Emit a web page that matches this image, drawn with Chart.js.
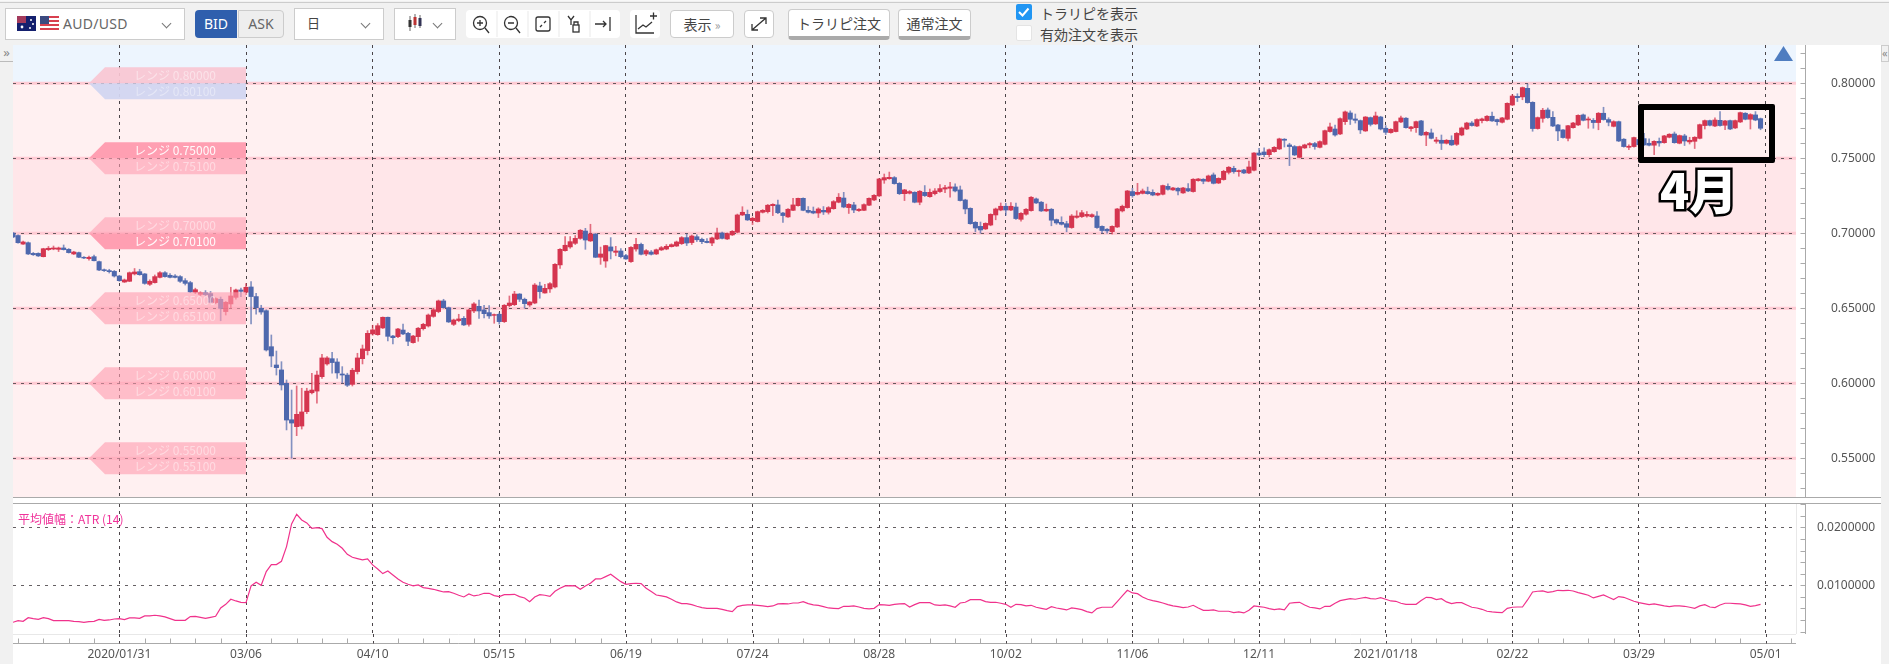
<!DOCTYPE html>
<html lang="ja">
<head>
<meta charset="utf-8">
<title>AUD/USD</title>
<script src="https://cdn.jsdelivr.net/npm/chart.js@4"></script>
<style>
html, body { margin: 0; padding: 0; background: #fff; overflow: hidden; }
body { width: 1889px; height: 664px; position: relative; font-family: "Noto Sans CJK JP", "Noto Sans", sans-serif; color: #444; }
div, svg, canvas { position: absolute; box-sizing: border-box; }
.box { background: #fff; border: 1px solid #ccc; }
.btn { background: #fff; border: 1px solid #ccc; border-radius: 4px; text-align: center; font-size: 14px; color: #444; }
.chev { width: 7px; height: 7px; border-right: 1px solid #777; border-bottom: 1px solid #777; transform: rotate(45deg); }
</style>
</head>
<body>
<!-- toolbar -->
<div style="left:0;top:0;width:1889px;height:45px;background:#f1f1f1;border-top:1px solid #f8f8f8"></div>
<div style="left:0;top:2px;width:1889px;height:1px;background:#ccc"></div>

<div class="box" style="left:5px;top:8px;width:180px;height:32px"></div>
<svg style="left:17px;top:16px" width="19" height="15"><rect width="19" height="15" fill="#14206e"/><rect width="9" height="7" fill="#a33a5c"/><circle cx="5" cy="11" r="1.4" fill="#fff"/><circle cx="14" cy="4" r="1" fill="#fff"/><circle cx="16" cy="8" r="1" fill="#fff"/><circle cx="13" cy="12" r="1" fill="#fff"/></svg>
<svg style="left:40px;top:16px" width="19" height="15"><rect width="19" height="15" fill="#fff"/><rect y="0" width="19" height="2" fill="#d8404f"/><rect y="4" width="19" height="2" fill="#d8404f"/><rect y="8" width="19" height="2" fill="#d8404f"/><rect y="12" width="19" height="2" fill="#d8404f"/><rect width="9" height="8" fill="#3b4a80"/></svg>
<div style="left:63px;top:14px;font:14px 'Noto Sans';line-height:20px;color:#666;letter-spacing:.3px;white-space:nowrap">AUD/USD</div>
<div class="chev" style="left:163px;top:20px"></div>

<div style="left:195px;top:10px;width:42px;height:28px;background:#2f5fad;border-radius:4px 0 0 4px;color:#fff;font:14px/28px 'Noto Sans';text-align:center">BID</div>
<div style="left:238px;top:10px;width:46px;height:28px;background:#eee;border:1px solid #ccc;border-radius:0 4px 4px 0;color:#666;font:14px/26px 'Noto Sans';text-align:center">ASK</div>

<div class="box" style="left:294px;top:8px;width:90px;height:32px"></div>
<div style="left:307px;top:13px;font-size:13px;line-height:20px;white-space:nowrap">日</div>
<div class="chev" style="left:362px;top:20px"></div>

<div class="box" style="left:394px;top:8px;width:62px;height:32px"></div>
<svg style="left:407px;top:14px" width="16" height="18"><path d="M3 2v15M8 0v14M13 1v13" stroke="#666"/><rect x="1.5" y="6" width="3" height="7" fill="#333"/><rect x="6.5" y="3" width="3" height="8" fill="#b33"/><rect x="11.5" y="4" width="3" height="8" fill="#335"/></svg>
<div class="chev" style="left:434px;top:20px"></div>

<div style="left:466px;top:10px;width:154px;height:28px;background:#fff;border-radius:4px"></div>
<svg style="left:466px;top:10px" width="154" height="28" fill="none" stroke="#333" stroke-width="1.3">
  <path d="M31 1v26M62 1v26M93 1v26M124 1v26" stroke="#eee"/>
  <circle cx="14" cy="13" r="6.5"/><path d="M19 18l4 5M11 13h6M14 10v6"/>
  <circle cx="45" cy="13" r="6.5"/><path d="M50 18l4 5M42 13h6"/>
  <rect x="70" y="7" width="14" height="14" rx="2"/><path d="M74 17l2-2M80 11l-2 2" />
  <path d="M102 6l3 4 3-4M105 10v5"/><rect x="107" y="15" width="6" height="7"/><path d="M108 15v-3h4v3"/>
  <path d="M129 14h11M137 11l3 3-3 3M144 7v14"/>
</svg>
<div style="left:630px;top:10px;width:30px;height:28px;background:#fff;border-radius:4px"></div>
<svg style="left:630px;top:10px" width="30" height="28" fill="none" stroke="#333" stroke-width="1.3"><path d="M6 5v18h18M8 19l5-4 3 2 6-5M20 6h7M23.500 2.500v7"/></svg>

<div class="btn" style="left:670px;top:10px;width:64px;height:28px;line-height:26px">表示 <span style="color:#999;font-size:12px">»</span></div>
<div class="btn" style="left:744px;top:10px;width:30px;height:28px"></div>
<svg style="left:744px;top:10px" width="30" height="28" fill="none" stroke="#333" stroke-width="1.3"><path d="M8 20l14-12M16 8h6v6M8 14v6h6"/></svg>

<div class="btn" style="left:788px;top:9px;width:102px;height:31px;line-height:26px;border-bottom:4px solid #aaa">トラリピ注文</div>
<div class="btn" style="left:898px;top:9px;width:73px;height:31px;line-height:26px;border-bottom:4px solid #aaa">通常注文</div>

<div style="left:1016px;top:4px;width:16px;height:16px;background:#2196f3;border-radius:2px"></div>
<svg style="left:1016px;top:4px" width="16" height="16" fill="none" stroke="#fff" stroke-width="2"><path d="M3 8l3.500 3.500 6-7"/></svg>
<div style="left:1040px;top:2px;font-size:14px;line-height:22px;white-space:nowrap">トラリピを表示</div>
<div style="left:1016px;top:25px;width:16px;height:16px;background:#fff;border:1px solid #e4e4e4;border-radius:2px"></div>
<div style="left:1040px;top:23px;font-size:14px;line-height:22px;white-space:nowrap">有効注文を表示</div>

<!-- side columns -->
<div style="left:0;top:45px;width:13px;height:619px;background:#f1f1f1"></div>
<div style="left:0;top:45px;width:13px;height:17px;border-bottom:1px solid #bbb;color:#888;font:13px/15px 'Noto Sans';text-align:center">»</div>
<div style="left:1881px;top:45px;width:8px;height:619px;background:#f1f1f1"></div>
<div style="left:1881px;top:45px;width:8px;height:17px;border:1px solid #ccc;color:#888;font:11px/14px 'Noto Sans';overflow:hidden">«</div>

<canvas id="priceChart" width="1868" height="452" style="left:13px;top:45px"></canvas>
<canvas id="atrChart" width="1868" height="160" style="left:13px;top:504px"></canvas>

<!-- pane separators -->
<div style="left:13px;top:497px;width:1868px;height:1px;background:#aaa"></div>
<div style="left:13px;top:503px;width:1868px;height:1px;background:#aaa"></div>

<svg style="left:1774px;top:46px" width="19" height="15"><path d="M9.500 0L19 15H0z" fill="#4f7dc0"/></svg>
<div style="left:1638px;top:104px;width:137px;height:59px;border:6px solid #000;border-radius:2px"></div>
<div style="left:1660px;top:158px;font-size:48px;font-weight:900;line-height:60px;color:#fff;-webkit-text-stroke:5px #000;paint-order:stroke fill;white-space:nowrap">4月</div>
<div style="left:18px;top:510px;font-size:12px;line-height:18px;color:#f0329a;white-space:nowrap">平均値幅：ATR (14)</div>

<script>
// every slot on the time axis, the last ones are still empty
const categories = Array.from({ length: 353 }, (_, i) => i);
const dateLabels = ['2020/01/31', '03/06', '04/10', '05/15', '06/19', '07/24', '08/28', '10/02', '11/06', '12/11', '2021/01/18', '02/22', '03/29', '05/01'];
const rangeLevels = [0.80, 0.75, 0.70, 0.65, 0.60, 0.55];

const openValues = [
0.7002,0.6985,0.6928,0.6937,0.6866,0.6866,0.6844,0.6891,0.6895,0.6893,
0.6902,0.6893,0.6862,0.6871,0.6840,0.6831,0.6844,0.6811,0.6757,0.6751,
0.6746,0.6715,0.6675,0.6680,0.6729,0.6744,0.6729,0.6660,0.6671,0.6706,
0.6737,0.6720,0.6715,0.6711,0.6684,0.6671,0.6607,0.6593,0.6604,0.6598,
0.6538,0.6560,0.6478,0.6529,0.6573,0.6622,0.6607,0.6642,0.6578,0.6500,
0.6484,0.6244,0.6122,0.6089,0.6000,0.5757,0.5711,0.5715,0.5811,0.5937,
0.5948,0.6044,0.6129,0.6164,0.6142,0.6062,0.6055,0.5993,0.6078,0.6164,
0.6218,0.6329,0.6324,0.6369,0.6440,0.6315,0.6311,0.6355,0.6333,0.6271,
0.6311,0.6364,0.6382,0.6446,0.6478,0.6549,0.6504,0.6393,0.6418,0.6433,
0.6393,0.6482,0.6513,0.6489,0.6471,0.6453,0.6460,0.6411,0.6518,0.6524,
0.6595,0.6560,0.6522,0.6535,0.6649,0.6602,0.6629,0.6642,0.6789,0.6884,
0.6909,0.6933,0.6966,0.7015,0.6949,0.6995,0.6840,0.6815,0.6909,0.6873,
0.6882,0.6851,0.6811,0.6895,0.6926,0.6862,0.6875,0.6862,0.6889,0.6895,
0.6911,0.6915,0.6931,0.6971,0.6938,0.6977,0.6960,0.6946,0.6935,0.6962,
0.7002,0.6962,0.6989,0.7007,0.7122,0.7126,0.7084,0.7078,0.7140,0.7144,
0.7184,0.7189,0.7135,0.7109,0.7153,0.7184,0.7233,0.7153,0.7147,0.7135,
0.7153,0.7140,0.7164,0.7207,0.7235,0.7171,0.7189,0.7151,0.7153,0.7187,
0.7222,0.7249,0.7355,0.7364,0.7371,0.7333,0.7264,0.7267,0.7273,0.7207,
0.7273,0.7244,0.7264,0.7278,0.7295,0.7300,0.7309,0.7289,0.7222,0.7166,
0.7073,0.7046,0.7029,0.7055,0.7122,0.7155,0.7180,0.7155,0.7175,0.7093,
0.7127,0.7151,0.7229,0.7207,0.7149,0.7160,0.7091,0.7073,0.7064,0.7038,
0.7106,0.7111,0.7115,0.7111,0.7115,0.7046,0.7027,0.7011,0.7042,0.7149,
0.7171,0.7278,0.7260,0.7266,0.7278,0.7273,0.7255,0.7260,0.7313,0.7289,
0.7300,0.7269,0.7298,0.7278,0.7351,0.7360,0.7347,0.7389,0.7335,0.7358,
0.7406,0.7433,0.7411,0.7422,0.7402,0.7420,0.7535,0.7542,0.7524,0.7544,
0.7562,0.7627,0.7589,0.7578,0.7506,0.7569,0.7589,0.7598,0.7573,0.7593,
0.7678,0.7695,0.7662,0.7744,0.7802,0.7762,0.7751,0.7682,0.7771,0.7729,
0.7775,0.7700,0.7671,0.7678,0.7742,0.7767,0.7698,0.7704,0.7749,0.7655,
0.7669,0.7613,0.7620,0.7600,0.7620,0.7593,0.7655,0.7695,0.7735,0.7715,
0.7751,0.7751,0.7780,0.7758,0.7740,0.7760,0.7855,0.7913,0.7909,0.7966,
0.7873,0.7698,0.7766,0.7822,0.7773,0.7722,0.7689,0.7633,0.7704,0.7722,
0.7789,0.7755,0.7753,0.7738,0.7800,0.7758,0.7713,0.7744,0.7627,0.7573,
0.7578,0.7625,0.7631,0.7600,0.7587,0.7613,0.7604,0.7640,0.7662,0.7600,
0.7649,0.7609,0.7613,0.7633,0.7718,0.7751,0.7715,0.7753,0.7720,0.7751,
0.7702,0.7742,0.7800,0.7760,0.7789,0.7764];

const closeValues = [
0.6975,0.6937,0.6942,0.6862,0.6857,0.6849,0.6897,0.6900,0.6902,0.6902,
0.6891,0.6871,0.6875,0.6840,0.6835,0.6840,0.6817,0.6755,0.6751,0.6744,
0.6715,0.6684,0.6689,0.6737,0.6742,0.6724,0.6666,0.6680,0.6711,0.6737,
0.6711,0.6706,0.6706,0.6680,0.6666,0.6609,0.6624,0.6604,0.6591,0.6540,
0.6564,0.6500,0.6540,0.6582,0.6622,0.6613,0.6640,0.6578,0.6504,0.6475,
0.6222,0.6182,0.6104,0.5989,0.5755,0.5735,0.5793,0.5809,0.5948,0.5955,
0.6055,0.6169,0.6169,0.6138,0.6069,0.6055,0.5987,0.6087,0.6169,0.6229,
0.6333,0.6356,0.6384,0.6440,0.6313,0.6304,0.6362,0.6329,0.6280,0.6315,
0.6367,0.6393,0.6455,0.6490,0.6549,0.6504,0.6409,0.6422,0.6429,0.6389,
0.6489,0.6529,0.6482,0.6464,0.6449,0.6458,0.6411,0.6520,0.6535,0.6595,
0.6560,0.6531,0.6542,0.6655,0.6611,0.6633,0.6664,0.6793,0.6893,0.6920,
0.6944,0.6966,0.7020,0.6955,0.6995,0.6840,0.6862,0.6918,0.6882,0.6882,
0.6844,0.6829,0.6906,0.6926,0.6860,0.6884,0.6860,0.6890,0.6904,0.6913,
0.6924,0.6942,0.6971,0.6935,0.6982,0.6957,0.6944,0.6938,0.6969,0.7002,
0.6966,0.6998,0.7013,0.7122,0.7140,0.7089,0.7100,0.7144,0.7153,0.7187,
0.7193,0.7137,0.7118,0.7160,0.7189,0.7233,0.7153,0.7140,0.7135,0.7162,
0.7142,0.7171,0.7211,0.7240,0.7175,0.7193,0.7155,0.7160,0.7191,0.7233,
0.7253,0.7362,0.7371,0.7373,0.7331,0.7264,0.7289,0.7278,0.7207,0.7280,
0.7251,0.7273,0.7282,0.7298,0.7304,0.7309,0.7282,0.7218,0.7162,0.7064,
0.7035,0.7022,0.7066,0.7126,0.7162,0.7180,0.7155,0.7180,0.7098,0.7133,
0.7160,0.7240,0.7202,0.7149,0.7160,0.7087,0.7069,0.7060,0.7040,0.7115,
0.7115,0.7137,0.7126,0.7124,0.7038,0.7018,0.7016,0.7046,0.7162,0.7180,
0.7282,0.7251,0.7273,0.7282,0.7264,0.7255,0.7266,0.7318,0.7293,0.7302,
0.7282,0.7302,0.7282,0.7360,0.7362,0.7347,0.7382,0.7333,0.7366,0.7413,
0.7440,0.7411,0.7418,0.7402,0.7442,0.7535,0.7522,0.7524,0.7557,0.7573,
0.7629,0.7620,0.7578,0.7522,0.7578,0.7589,0.7598,0.7578,0.7611,0.7684,
0.7709,0.7655,0.7764,0.7809,0.7760,0.7753,0.7689,0.7775,0.7726,0.7782,
0.7695,0.7673,0.7693,0.7744,0.7769,0.7704,0.7709,0.7744,0.7655,0.7673,
0.7633,0.7622,0.7600,0.7620,0.7589,0.7666,0.7702,0.7735,0.7718,0.7758,
0.7762,0.7780,0.7749,0.7744,0.7769,0.7866,0.7915,0.7904,0.7971,0.7871,
0.7698,0.7771,0.7820,0.7771,0.7715,0.7682,0.7638,0.7717,0.7735,0.7786,
0.7753,0.7762,0.7738,0.7800,0.7758,0.7740,0.7744,0.7615,0.7578,0.7580,
0.7638,0.7590,0.7589,0.7587,0.7613,0.7602,0.7649,0.7660,0.7604,0.7651,
0.7615,0.7620,0.7640,0.7724,0.7751,0.7720,0.7755,0.7718,0.7749,0.7695,
0.7751,0.7804,0.7760,0.7791,0.7755,0.7700];

const highValues = [
0.7005,0.6990,0.6948,0.6942,0.6872,0.6870,0.6900,0.6912,0.6915,0.6908,
0.6922,0.6898,0.6880,0.6875,0.6845,0.6848,0.6855,0.6815,0.6762,0.6760,
0.6752,0.6720,0.6695,0.6742,0.6765,0.6760,0.6732,0.6690,0.6722,0.6745,
0.6745,0.6732,0.6725,0.6718,0.6698,0.6680,0.6634,0.6610,0.6618,0.6612,
0.6570,0.6575,0.6545,0.6640,0.6628,0.6635,0.6665,0.6678,0.6600,0.6520,
0.6490,0.6322,0.6215,0.6144,0.6022,0.5955,0.5982,0.5967,0.5967,0.6067,
0.6082,0.6193,0.6178,0.6207,0.6164,0.6111,0.6067,0.6100,0.6200,0.6255,
0.6351,0.6387,0.6398,0.6442,0.6442,0.6320,0.6367,0.6395,0.6340,0.6320,
0.6372,0.6400,0.6462,0.6500,0.6555,0.6560,0.6508,0.6428,0.6460,0.6445,
0.6495,0.6538,0.6555,0.6520,0.6518,0.6462,0.6470,0.6525,0.6582,0.6613,
0.6598,0.6568,0.6545,0.6665,0.6674,0.6660,0.6672,0.6798,0.6898,0.6978,
0.6978,0.6985,0.7025,0.7033,0.7060,0.6998,0.6908,0.6920,0.6971,0.6913,
0.6898,0.6860,0.6912,0.6967,0.6935,0.6892,0.6885,0.6895,0.6912,0.6925,
0.6930,0.6948,0.6978,0.6995,0.6988,0.6990,0.6968,0.6965,0.6975,0.7035,
0.7008,0.7002,0.7018,0.7128,0.7177,0.7155,0.7108,0.7148,0.7158,0.7192,
0.7197,0.7222,0.7140,0.7165,0.7233,0.7235,0.7236,0.7178,0.7175,0.7170,
0.7178,0.7178,0.7218,0.7265,0.7273,0.7198,0.7207,0.7165,0.7196,0.7237,
0.7258,0.7366,0.7395,0.7408,0.7378,0.7338,0.7293,0.7285,0.7277,0.7285,
0.7318,0.7295,0.7298,0.7325,0.7320,0.7340,0.7330,0.7315,0.7227,0.7170,
0.7078,0.7075,0.7070,0.7130,0.7168,0.7202,0.7200,0.7205,0.7202,0.7138,
0.7165,0.7245,0.7235,0.7212,0.7195,0.7165,0.7095,0.7110,0.7080,0.7125,
0.7150,0.7152,0.7145,0.7130,0.7145,0.7050,0.7032,0.7050,0.7166,0.7188,
0.7286,0.7300,0.7333,0.7295,0.7308,0.7290,0.7270,0.7322,0.7330,0.7307,
0.7304,0.7307,0.7332,0.7364,0.7366,0.7364,0.7388,0.7402,0.7370,0.7420,
0.7445,0.7447,0.7422,0.7426,0.7482,0.7538,0.7566,0.7570,0.7562,0.7578,
0.7634,0.7631,0.7600,0.7585,0.7582,0.7594,0.7605,0.7606,0.7617,0.7688,
0.7735,0.7722,0.7770,0.7815,0.7816,0.7795,0.7755,0.7778,0.7775,0.7808,
0.7780,0.7718,0.7697,0.7748,0.7782,0.7771,0.7713,0.7748,0.7753,0.7678,
0.7695,0.7640,0.7655,0.7625,0.7650,0.7672,0.7708,0.7740,0.7745,0.7763,
0.7768,0.7785,0.7808,0.7762,0.7773,0.7870,0.7925,0.7930,0.7975,0.7995,
0.7877,0.7775,0.7833,0.7835,0.7811,0.7726,0.7692,0.7720,0.7740,0.7790,
0.7795,0.7775,0.7765,0.7805,0.7840,0.7770,0.7750,0.7748,0.7631,0.7590,
0.7642,0.7660,0.7667,0.7630,0.7617,0.7635,0.7653,0.7664,0.7675,0.7655,
0.7660,0.7640,0.7644,0.7728,0.7755,0.7755,0.7770,0.7811,0.7753,0.7755,
0.7755,0.7808,0.7804,0.7797,0.7811,0.7768];

const lowValues = [
0.6970,0.6934,0.6925,0.6858,0.6852,0.6845,0.6842,0.6885,0.6890,0.6878,
0.6888,0.6868,0.6858,0.6838,0.6830,0.6820,0.6815,0.6750,0.6745,0.6735,
0.6708,0.6680,0.6672,0.6678,0.6722,0.6720,0.6660,0.6652,0.6668,0.6702,
0.6708,0.6702,0.6702,0.6672,0.6655,0.6605,0.6598,0.6582,0.6582,0.6535,
0.6530,0.6417,0.6455,0.6500,0.6560,0.6578,0.6590,0.6395,0.6460,0.6460,
0.6215,0.6110,0.6055,0.5955,0.5689,0.5500,0.5651,0.5695,0.5798,0.5929,
0.5867,0.6033,0.6120,0.6067,0.6033,0.6002,0.5978,0.5982,0.6062,0.6129,
0.6189,0.6320,0.6320,0.6365,0.6282,0.6262,0.6304,0.6324,0.6250,0.6268,
0.6280,0.6355,0.6375,0.6440,0.6470,0.6500,0.6405,0.6385,0.6410,0.6385,
0.6380,0.6470,0.6433,0.6435,0.6433,0.6400,0.6395,0.6405,0.6510,0.6518,
0.6545,0.6500,0.6512,0.6530,0.6567,0.6600,0.6606,0.6635,0.6766,0.6880,
0.6900,0.6925,0.6960,0.6893,0.6945,0.6838,0.6793,0.6773,0.6829,0.6850,
0.6835,0.6825,0.6805,0.6880,0.6855,0.6850,0.6855,0.6858,0.6885,0.6890,
0.6908,0.6912,0.6925,0.6918,0.6925,0.6945,0.6930,0.6935,0.6918,0.6958,
0.6962,0.6958,0.6985,0.7003,0.7118,0.7085,0.7058,0.7075,0.7135,0.7135,
0.7118,0.7130,0.7072,0.7105,0.7150,0.7180,0.7150,0.7135,0.7130,0.7105,
0.7125,0.7128,0.7160,0.7203,0.7170,0.7132,0.7138,0.7145,0.7150,0.7184,
0.7218,0.7245,0.7333,0.7360,0.7327,0.7258,0.7218,0.7262,0.7203,0.7190,
0.7245,0.7240,0.7255,0.7273,0.7270,0.7240,0.7275,0.7215,0.7130,0.7060,
0.7010,0.7000,0.7025,0.7050,0.7090,0.7150,0.7120,0.7150,0.7092,0.7080,
0.7120,0.7147,0.7198,0.7145,0.7145,0.7050,0.7060,0.7055,0.7010,0.7033,
0.7100,0.7105,0.7108,0.7105,0.7033,0.7000,0.7000,0.6995,0.7038,0.7142,
0.7167,0.7240,0.7255,0.7262,0.7260,0.7250,0.7250,0.7255,0.7288,0.7285,
0.7255,0.7265,0.7278,0.7274,0.7347,0.7330,0.7343,0.7329,0.7331,0.7354,
0.7395,0.7400,0.7380,0.7398,0.7398,0.7416,0.7518,0.7510,0.7510,0.7540,
0.7558,0.7575,0.7451,0.7518,0.7503,0.7565,0.7570,0.7560,0.7569,0.7589,
0.7674,0.7648,0.7658,0.7725,0.7725,0.7735,0.7665,0.7679,0.7715,0.7725,
0.7689,0.7658,0.7667,0.7675,0.7738,0.7700,0.7680,0.7672,0.7651,0.7584,
0.7629,0.7600,0.7558,0.7595,0.7585,0.7585,0.7650,0.7691,0.7714,0.7711,
0.7735,0.7747,0.7745,0.7720,0.7735,0.7756,0.7851,0.7878,0.7890,0.7867,
0.7680,0.7694,0.7740,0.7766,0.7711,0.7618,0.7634,0.7615,0.7700,0.7718,
0.7749,0.7700,0.7700,0.7690,0.7754,0.7716,0.7709,0.7611,0.7574,0.7558,
0.7574,0.7580,0.7585,0.7583,0.7524,0.7580,0.7600,0.7636,0.7600,0.7596,
0.7585,0.7595,0.7565,0.7629,0.7695,0.7716,0.7711,0.7714,0.7690,0.7691,
0.7698,0.7738,0.7756,0.7695,0.7750,0.7690];

const atrValues = [
0.00362,0.00390,0.00379,0.00442,0.00425,0.00413,0.00442,0.00425,0.00390,0.00390,
0.00390,0.00390,0.00379,0.00373,0.00362,0.00373,0.00379,0.00413,0.00396,0.00402,
0.00419,0.00425,0.00408,0.00437,0.00437,0.00431,0.00471,0.00471,0.00483,0.00471,
0.00454,0.00425,0.00396,0.00396,0.00396,0.00460,0.00465,0.00448,0.00431,0.00448,
0.00465,0.00609,0.00672,0.00759,0.00730,0.00707,0.00701,0.00989,0.01052,0.01000,
0.01236,0.01357,0.01357,0.01414,0.01667,0.02058,0.02225,0.02127,0.02075,0.01983,
0.01995,0.01978,0.01828,0.01753,0.01707,0.01638,0.01535,0.01483,0.01460,0.01437,
0.01454,0.01351,0.01282,0.01201,0.01247,0.01178,0.01109,0.01052,0.01017,0.00989,
0.01006,0.00960,0.00948,0.00931,0.00908,0.00885,0.00891,0.00862,0.00828,0.00799,
0.00851,0.00816,0.00833,0.00862,0.00862,0.00822,0.00805,0.00839,0.00839,0.00845,
0.00805,0.00782,0.00718,0.00799,0.00839,0.00828,0.00810,0.00897,0.00948,0.00989,
0.00994,0.00989,0.00931,0.00989,0.01035,0.01109,0.01109,0.01150,0.01190,0.01127,
0.01063,0.01017,0.01029,0.01035,0.01029,0.00948,0.00891,0.00833,0.00816,0.00799,
0.00759,0.00713,0.00684,0.00684,0.00667,0.00638,0.00615,0.00603,0.00603,0.00603,
0.00586,0.00563,0.00546,0.00632,0.00655,0.00661,0.00661,0.00655,0.00644,0.00632,
0.00644,0.00678,0.00684,0.00678,0.00695,0.00695,0.00718,0.00684,0.00661,0.00655,
0.00632,0.00609,0.00603,0.00598,0.00638,0.00638,0.00644,0.00626,0.00603,0.00592,
0.00603,0.00667,0.00661,0.00655,0.00672,0.00678,0.00684,0.00626,0.00667,0.00701,
0.00701,0.00701,0.00661,0.00655,0.00661,0.00644,0.00621,0.00695,0.00707,0.00753,
0.00753,0.00753,0.00718,0.00707,0.00707,0.00690,0.00672,0.00621,0.00672,0.00667,
0.00644,0.00655,0.00621,0.00603,0.00586,0.00632,0.00609,0.00592,0.00575,0.00609,
0.00598,0.00580,0.00546,0.00523,0.00598,0.00621,0.00621,0.00621,0.00718,0.00816,
0.00914,0.00868,0.00856,0.00799,0.00759,0.00736,0.00718,0.00695,0.00667,0.00644,
0.00632,0.00615,0.00626,0.00655,0.00609,0.00569,0.00569,0.00575,0.00552,0.00552,
0.00552,0.00529,0.00540,0.00523,0.00569,0.00644,0.00632,0.00621,0.00598,0.00580,
0.00592,0.00575,0.00690,0.00701,0.00707,0.00661,0.00621,0.00609,0.00592,0.00638,
0.00638,0.00690,0.00736,0.00753,0.00770,0.00759,0.00776,0.00793,0.00770,0.00764,
0.00787,0.00759,0.00730,0.00724,0.00690,0.00672,0.00672,0.00672,0.00736,0.00793,
0.00787,0.00753,0.00770,0.00713,0.00684,0.00701,0.00701,0.00661,0.00621,0.00609,
0.00586,0.00552,0.00540,0.00534,0.00529,0.00603,0.00621,0.00626,0.00626,0.00747,
0.00885,0.00897,0.00902,0.00879,0.00891,0.00914,0.00908,0.00914,0.00902,0.00874,
0.00851,0.00828,0.00782,0.00810,0.00833,0.00793,0.00753,0.00805,0.00793,0.00759,
0.00724,0.00701,0.00684,0.00667,0.00678,0.00661,0.00644,0.00632,0.00644,0.00644,
0.00638,0.00621,0.00603,0.00644,0.00667,0.00626,0.00615,0.00661,0.00690,0.00690,
0.00684,0.00678,0.00661,0.00638,0.00649,0.00672];

const UP = '#d5354f', DOWN = '#4e68ad';
const UP_WICK = 'rgba(213,53,79,.7)', DOWN_WICK = 'rgba(78,104,173,.7)';
const GRID = '#4a4448';
const FONT = "'Noto Sans', 'Noto Sans CJK JP', sans-serif";

Chart.defaults.font.family = FONT;
Chart.defaults.font.size = 12;
Chart.defaults.color = '#555';

const gridIndex = i => i >= 21 && (i - 21) % 25 === 0;
const isMultiple = (v, step) => Math.abs(v / step - Math.round(v / step)) < 1e-6;
const clearColor = 'rgba(0,0,0,0)';

// tick marks on the price axis and the thin axis line right of the pane
const axisMarks = {
    id: 'axisMarks',
    afterDraw(chart) {
        const c = chart.ctx, y = chart.scales.y, lineX = 1792.5;
        c.save();
        c.strokeStyle = '#aaa';
        c.lineWidth = 1;
        c.beginPath();
        c.moveTo(lineX, y.top);
        c.lineTo(lineX, y.bottom);
        y.ticks.forEach(t => {
            const py = Math.round(y.getPixelForValue(t.value)) + 0.5;
            c.moveTo(lineX - 5, py);
            c.lineTo(lineX, py);
        });
        c.stroke();
        c.restore();
    }
};

// coloured zones and pink level lines behind the candles
const bandEdges = [null, 0.80, 0.75, 0.70, null];
const bandColors = ['#edf5fe', '#fff0f1', '#ffe6e9', '#fff0f1'];
const zones = {
    id: 'zones',
    beforeDraw(chart) {
        const c = chart.ctx, y = chart.scales.y, a = chart.chartArea;
        bandColors.forEach((col, k) => {
            const top = bandEdges[k] === null ? a.top : y.getPixelForValue(bandEdges[k]);
            const bot = bandEdges[k + 1] === null ? a.bottom : y.getPixelForValue(bandEdges[k + 1]);
            c.fillStyle = col;
            c.fillRect(a.left, top, a.right - a.left, bot - top);
        });
        c.fillStyle = '#ffcbd4';
        rangeLevels.forEach(l => c.fillRect(a.left, y.getPixelForValue(l) - 1.5, a.right - a.left, 3));
    }
};

// the range tags, painted over the candles like in the platform
const tagFill = [
    ['rgba(248,198,211,.92)', 'rgba(210,213,240,.95)'],
    ['rgba(255,159,178,1)', 'rgba(255,159,178,.6)'],
    ['rgba(255,159,178,.6)', 'rgba(255,159,178,1)'],
    ['rgba(255,159,178,.63)', 'rgba(255,159,178,.63)'],
    ['rgba(255,159,178,.63)', 'rgba(255,159,178,.63)'],
    ['rgba(255,159,178,.63)', 'rgba(255,159,178,.63)']
];
const tagText = [[.45, .4], [.95, .45], [.45, .95], [.45, .45], [.45, .45], [.45, .45]];
const rangeTags = {
    id: 'rangeTags',
    afterDatasetsDraw(chart) {
        const c = chart.ctx, y = chart.scales.y, x = chart.scales.x;
        const right = x.getPixelForValue(46), left = right - 141, tip = left - 16;
        c.save();
        c.font = "12px 'Noto Sans CJK JP', 'Noto Sans', sans-serif";
        c.textAlign = 'center';
        c.textBaseline = 'middle';
        rangeLevels.forEach((l, k) => {
            const py = y.getPixelForValue(l);
            [-1, 1].forEach((dir, side) => {
                c.fillStyle = tagFill[k][side];
                c.beginPath();
                c.moveTo(tip, py);
                c.lineTo(left, py + dir * 16);
                c.lineTo(right, py + dir * 16);
                c.lineTo(right, py);
                c.closePath();
                c.fill();
                c.fillStyle = 'rgba(255,255,255,' + tagText[k][side] + ')';
                const price = side === 0 ? l : l + 0.001;
                c.fillText('レンジ ' + price.toFixed(5), left + 70, py + dir * 8);
            });
        });
        c.restore();
    }
};

// small marks above the time axis, the axis itself and the bottom of the pane
const timeAxis = {
    id: 'timeAxis',
    afterDraw(chart) {
        const c = chart.ctx, x = chart.scales.x, a = chart.chartArea, axisY = a.bottom + 9.5;
        c.save();
        c.strokeStyle = '#e8e8e8';
        c.beginPath();
        c.moveTo(a.left, a.bottom + 0.5);
        c.lineTo(a.right, a.bottom + 0.5);
        c.moveTo(a.right + 0.5, a.top);
        c.lineTo(a.right + 0.5, a.bottom);
        c.stroke();
        c.strokeStyle = '#aaa';
        c.beginPath();
        c.moveTo(a.left, axisY);
        c.lineTo(a.right, axisY);
        categories.forEach(i => {
            if (i % 5 === 1 && !gridIndex(i)) {
                const px = Math.round(x.getPixelForValue(i)) + 0.5;
                c.moveTo(px, axisY - 5);
                c.lineTo(px, axisY);
            }
        });
        c.stroke();
        c.strokeStyle = GRID;
        c.setLineDash([3, 4]);
        c.beginPath();
        categories.filter(gridIndex).forEach(i => {
            const px = Math.round(x.getPixelForValue(i)) + 0.5;
            c.moveTo(px, a.bottom);
            c.lineTo(px, axisY);
        });
        c.stroke();
        c.restore();
    }
};

function timeScale(showLabels) {
    return {
        type: 'category',
        offset: false,
        grid: {
            offset: false,
            drawTicks: false,
            color: ctx => gridIndex(ctx.index) ? GRID : clearColor
        },
        border: { display: false, dash: [3, 4] },
        ticks: {
            display: showLabels,
            autoSkip: false,
            maxRotation: 0,
            padding: 13,
            callback: (v, i) => gridIndex(i) ? dateLabels[(i - 21) / 25] : ''
        },
        // tick padding would otherwise push the pane in from both sides
        afterFit: s => {
            s.height = showLabels ? 30 : 0;
            s.paddingLeft = 0;
            s.paddingRight = 0;
        }
    };
}

function valueScale(min, max, step, major, decimals, padding) {
    return {
        position: 'right',
        min: min,
        max: max,
        grid: {
            drawTicks: false,
            color: ctx => ctx.tick && isMultiple(ctx.tick.value, major) ? 'rgba(74,68,72,.85)' : clearColor
        },
        border: { display: false, dash: [3, 5] },
        ticks: {
            stepSize: step,
            autoSkip: false,
            includeBounds: false,
            padding: padding,
            callback: v => isMultiple(v, major) ? v.toFixed(decimals) : ''
        },
        afterFit: s => {
            s.width = 85;
            s.paddingTop = 0;
            s.paddingBottom = 0;
        }
    };
}

const sharedOptions = {
    responsive: false,
    animation: false,
    events: [],
    plugins: { legend: { display: false }, tooltip: { enabled: false } }
};

new Chart(document.getElementById('priceChart'), {
    type: 'bar',
    data: {
        labels: categories,
        datasets: [
            {
                label: 'wick',
                data: highValues.map((h, i) => [lowValues[i], h]),
                barThickness: 1,
                order: 2,
                backgroundColor: ctx => closeValues[ctx.dataIndex] >= openValues[ctx.dataIndex] ? UP_WICK : DOWN_WICK
            },
            {
                label: 'body',
                data: openValues.map((o, i) => [o, closeValues[i]]),
                barThickness: 4.4,
                order: 1,
                backgroundColor: ctx => closeValues[ctx.dataIndex] >= openValues[ctx.dataIndex] ? UP : DOWN
            }
        ]
    },
    options: {
        ...sharedOptions,
        layout: { padding: 0 },
        datasets: { bar: { grouped: false, borderWidth: 0 } },
        scales: {
            x: timeScale(false),
            y: valueScale(0.5242, 0.8255, 0.01, 0.05, 5, 35)
        }
    },
    plugins: [zones, rangeTags, axisMarks]
});

new Chart(document.getElementById('atrChart'), {
    type: 'line',
    data: {
        labels: categories,
        datasets: [{
            label: 'ATR (14)',
            data: atrValues,
            borderColor: '#f0328c',
            borderWidth: 1.2,
            pointRadius: 0,
            tension: 0
        }]
    },
    options: {
        ...sharedOptions,
        layout: { padding: 0 },
        scales: {
            x: timeScale(true),
            y: valueScale(0.0016, 0.02402, 0.002, 0.01, 7, 21)
        }
    },
    plugins: [axisMarks, timeAxis]
});
</script>
</body>
</html>
